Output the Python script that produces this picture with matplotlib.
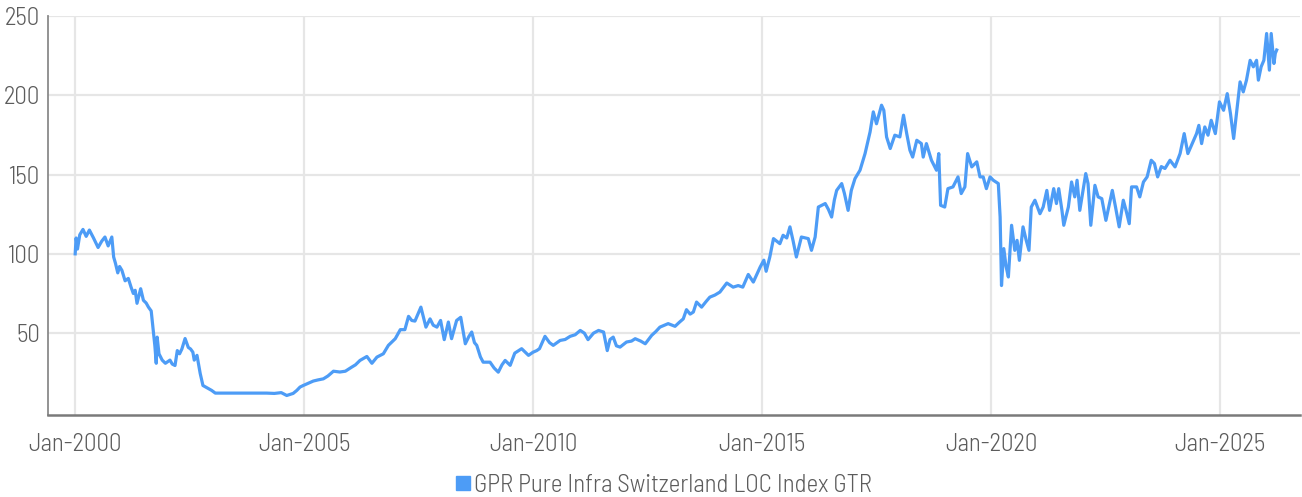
import matplotlib
matplotlib.use("Agg")
import matplotlib.pyplot as plt
from matplotlib.lines import Line2D

# index level, x in decimal years
years = [
    2000.00, 2000.02, 2000.05, 2000.10, 2000.17, 2000.24, 2000.31, 2000.40, 2000.50, 2000.58,
    2000.65, 2000.72, 2000.80, 2000.84, 2000.88, 2000.93, 2000.97, 2001.02, 2001.09, 2001.16,
    2001.22, 2001.27, 2001.31, 2001.35, 2001.43, 2001.49, 2001.55, 2001.60, 2001.66, 2001.71,
    2001.74, 2001.77, 2001.79, 2001.83, 2001.90, 2001.97, 2002.07, 2002.12, 2002.18, 2002.23,
    2002.28, 2002.33, 2002.40, 2002.47, 2002.52, 2002.57, 2002.60, 2002.66, 2002.73, 2002.79,
    2002.87, 2002.98, 2003.06, 2003.50, 2004.00, 2004.18, 2004.35, 2004.50, 2004.62, 2004.76,
    2004.84, 2004.91, 2004.98, 2005.10, 2005.20, 2005.30, 2005.42, 2005.52, 2005.64, 2005.78,
    2005.90, 2006.04, 2006.12, 2006.22, 2006.37, 2006.48, 2006.59, 2006.73, 2006.84, 2006.99,
    2007.10, 2007.20, 2007.28, 2007.35, 2007.42, 2007.55, 2007.66, 2007.75, 2007.82, 2007.90,
    2007.98, 2008.06, 2008.15, 2008.22, 2008.33, 2008.42, 2008.52, 2008.60, 2008.66, 2008.72,
    2008.77, 2008.85, 2008.91, 2009.06, 2009.15, 2009.24, 2009.32, 2009.39, 2009.50, 2009.60,
    2009.75, 2009.90, 2010.00, 2010.08, 2010.14, 2010.26, 2010.36, 2010.44, 2010.59, 2010.70,
    2010.81, 2010.92, 2011.03, 2011.12, 2011.20, 2011.32, 2011.43, 2011.54, 2011.62, 2011.68,
    2011.75, 2011.82, 2011.90, 2012.04, 2012.15, 2012.23, 2012.35, 2012.45, 2012.59, 2012.68,
    2012.77, 2012.87, 2012.95, 2013.10, 2013.20, 2013.28, 2013.35, 2013.43, 2013.50, 2013.57,
    2013.68, 2013.78, 2013.86, 2013.97, 2014.08, 2014.23, 2014.37, 2014.48, 2014.58, 2014.70,
    2014.81, 2014.96, 2015.04, 2015.09, 2015.17, 2015.25, 2015.39, 2015.46, 2015.54, 2015.61,
    2015.68, 2015.75, 2015.86, 2016.01, 2016.08, 2016.16, 2016.23, 2016.38, 2016.45, 2016.52,
    2016.58, 2016.63, 2016.74, 2016.80, 2016.88, 2016.95, 2017.03, 2017.14, 2017.25, 2017.36,
    2017.43, 2017.50, 2017.61, 2017.66, 2017.72, 2017.80, 2017.90, 2018.01, 2018.09, 2018.16,
    2018.23, 2018.29, 2018.38, 2018.48, 2018.52, 2018.59, 2018.70, 2018.81, 2018.86, 2018.90,
    2018.99, 2019.06, 2019.17, 2019.28, 2019.35, 2019.43, 2019.49, 2019.58, 2019.69, 2019.76,
    2019.83, 2019.90, 2019.98, 2020.05, 2020.16, 2020.20, 2020.23, 2020.28, 2020.33, 2020.38,
    2020.45, 2020.52, 2020.57, 2020.62, 2020.70, 2020.77, 2020.83, 2020.88, 2020.96, 2021.07,
    2021.14, 2021.22, 2021.28, 2021.37, 2021.43, 2021.48, 2021.55, 2021.59, 2021.69, 2021.76,
    2021.83, 2021.88, 2021.94, 2022.07, 2022.12, 2022.18, 2022.27, 2022.34, 2022.42, 2022.51,
    2022.65, 2022.72, 2022.80, 2022.89, 2022.95, 2023.02, 2023.07, 2023.18, 2023.25, 2023.33,
    2023.41, 2023.50, 2023.57, 2023.64, 2023.72, 2023.80, 2023.91, 2024.02, 2024.13, 2024.22,
    2024.30, 2024.38, 2024.49, 2024.54, 2024.60, 2024.67, 2024.74, 2024.81, 2024.90, 2024.99,
    2025.08, 2025.16, 2025.23, 2025.30, 2025.37, 2025.44, 2025.51, 2025.58, 2025.66, 2025.73,
    2025.80, 2025.84, 2025.90, 2025.96, 2026.02, 2026.08, 2026.12, 2026.18, 2026.21, 2026.24,
]
index_values = [
    100.0, 110.0, 103.0, 112.0, 115.4, 111.0, 115.0, 110.0, 104.0, 108.0,
    110.6, 105.0, 110.6, 98.0, 94.0, 88.0, 92.0, 89.6, 83.0, 84.5,
    79.0, 75.0, 77.0, 68.8, 78.0, 70.7, 69.0, 66.4, 64.0, 50.0,
    42.0, 31.0, 47.5, 37.0, 33.0, 31.0, 33.0, 30.5, 29.6, 39.0,
    37.0, 40.0, 46.6, 41.0, 40.0, 38.0, 33.0, 36.0, 24.6, 17.0,
    15.7, 13.9, 12.2, 12.2, 12.2, 12.2, 12.0, 12.5, 10.7, 12.0,
    13.9, 16.0, 17.0, 18.5, 19.8, 20.5, 21.2, 23.0, 26.0, 25.5,
    26.0, 28.6, 30.0, 32.8, 35.3, 31.0, 34.9, 37.0, 42.3, 46.5,
    52.2, 52.2, 60.6, 58.0, 57.6, 66.4, 53.8, 59.0, 55.0, 53.8,
    58.0, 45.9, 57.0, 46.5, 58.0, 60.0, 43.3, 48.0, 50.7, 44.0,
    42.3, 35.0, 31.7, 31.7, 28.0, 25.4, 30.0, 32.8, 29.7, 37.4,
    40.2, 36.0, 38.0, 39.0, 40.2, 48.0, 44.0, 42.3, 45.4, 46.0,
    48.0, 49.0, 51.7, 50.0, 45.9, 50.0, 51.7, 50.7, 39.0, 46.0,
    47.5, 42.0, 41.2, 44.4, 45.0, 46.5, 45.0, 43.3, 48.6, 51.0,
    53.8, 55.0, 56.0, 54.3, 57.0, 59.0, 64.8, 62.0, 63.3, 69.6,
    66.4, 70.0, 72.7, 74.0, 75.9, 81.6, 79.0, 80.0, 79.0, 87.0,
    82.2, 91.7, 96.0, 89.0, 98.0, 109.6, 106.4, 111.7, 110.0, 117.0,
    108.0, 98.0, 110.6, 109.6, 102.2, 110.6, 129.5, 131.7, 128.0, 123.2,
    134.0, 140.0, 144.3, 138.0, 127.4, 140.0, 147.4, 152.7, 163.2, 176.9,
    189.5, 182.0, 193.7, 190.5, 173.7, 166.4, 174.8, 173.7, 187.4, 175.8,
    165.3, 161.0, 171.6, 169.5, 161.0, 169.5, 159.0, 152.7, 163.2, 130.6,
    129.5, 141.1, 142.2, 148.5, 138.0, 142.2, 163.2, 154.8, 158.0, 148.5,
    148.5, 141.1, 148.5, 146.4, 144.3, 123.2, 80.0, 103.3, 92.0, 85.4,
    118.0, 102.2, 108.5, 95.9, 117.0, 108.5, 102.2, 129.5, 133.8, 125.3,
    129.5, 140.0, 127.4, 141.1, 131.7, 141.1, 127.4, 118.0, 129.5, 145.3,
    135.9, 146.4, 127.4, 150.6, 144.3, 118.0, 143.2, 135.9, 134.8, 121.1,
    140.0, 129.5, 117.0, 133.8, 127.4, 119.0, 142.2, 142.2, 135.9, 145.3,
    148.5, 159.0, 156.9, 148.5, 155.0, 153.8, 159.0, 154.8, 163.2, 175.8,
    163.2, 168.5, 175.8, 181.0, 169.5, 180.0, 174.8, 184.2, 175.8, 195.8,
    190.5, 201.0, 188.5, 172.7, 190.5, 208.4, 202.1, 209.5, 222.0, 217.9,
    222.0, 209.5, 217.9, 222.0, 238.9, 215.8, 238.9, 220.0, 226.4, 228.5,
]
tick_years = [2000, 2005, 2010, 2015, 2020, 2025]
tick_labels = ["Jan-2000", "Jan-2005", "Jan-2010", "Jan-2015", "Jan-2020", "Jan-2025"]
y_ticks = [50, 100, 150, 200, 250]
series_name = "GPR Pure Infra Switzerland LOC Index GTR"

plt.rcParams["font.family"] = ["Barlow Semi Condensed", "DejaVu Sans"]
plt.rcParams["font.weight"] = 300

line_color = "#4d9cf6"
text_color = "#5c5c5c"

fig = plt.figure(figsize=(13.02, 4.97), dpi=100)
ax = fig.add_axes([0.037, 0.165, 0.9615, 0.803])

ax.plot(years, index_values, color=line_color, linewidth=2.3, zorder=3)

ax.set_xlim(1999.41, 2026.75)
ax.set_ylim(-1.6, 250)
ax.set_xticks(tick_years)
ax.set_xticklabels(tick_labels)
ax.set_yticks(y_ticks)

ax.grid(True, color="#e6e6e6", linewidth=1.6, zorder=0)
ax.set_axisbelow(True)
for side in ("top", "right"):
    ax.spines[side].set_visible(False)
ax.spines["left"].set_color("#8a8a8a")
ax.spines["left"].set_linewidth(1.3)
ax.spines["bottom"].set_color("#7a7a7a")
ax.spines["bottom"].set_linewidth(1.8)
ax.tick_params(length=0, labelsize=18, labelcolor=text_color)
ax.tick_params(axis="x", pad=13)
ax.tick_params(axis="y", pad=6)

handle = Line2D([], [], linestyle="none", marker="s", markersize=9.5,
                markerfacecolor=line_color, markeredgecolor=line_color)
fig.legend([handle], [series_name], loc="center", bbox_to_anchor=(0.5105, 0.024),
           frameon=False, fontsize=18, labelcolor=text_color,
           handlelength=0.5, handletextpad=0.2, borderpad=0, borderaxespad=0)

fig.savefig("out.png", dpi=100)
